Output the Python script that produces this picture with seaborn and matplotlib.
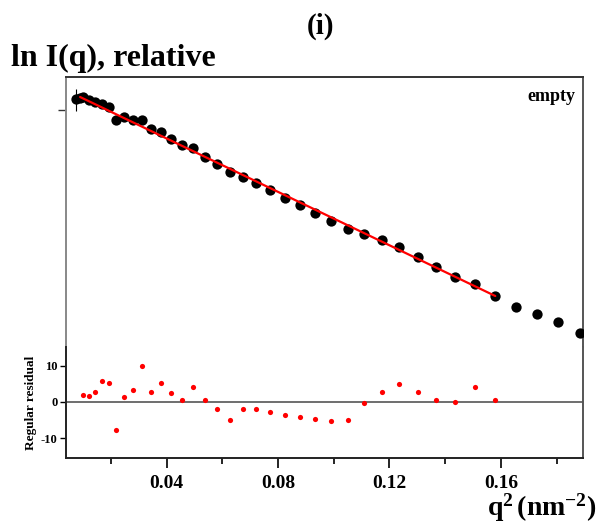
import matplotlib
matplotlib.use("Agg")
import matplotlib.pyplot as plt
from matplotlib.ticker import MultipleLocator, FixedLocator
import seaborn as sns
import pandas as pd

sns.set_theme(style="white")
plt.rcParams['font.family'] = ['Liberation Serif', 'DejaVu Serif']
plt.rcParams['font.weight'] = 'bold'
plt.rcParams['text.color'] = 'black'
plt.rcParams['axes.labelcolor'] = 'black'
plt.rcParams['xtick.color'] = 'black'
plt.rcParams['ytick.color'] = 'black'
plt.rcParams['mathtext.fontset'] = 'custom'
plt.rcParams['mathtext.rm'] = 'Liberation Serif:bold'
plt.rcParams['mathtext.bf'] = 'Liberation Serif:bold'
plt.rcParams['mathtext.it'] = 'Liberation Serif:bold'

# ---- data ----
q_lead = [0.0076, 0.0089]
lnI_lead = [0.115, 0.125]

q_fit = [0.0100, 0.0121, 0.0144, 0.0167, 0.0192, 0.0219, 0.0248, 0.0278, 0.0310,
         0.0344, 0.0378, 0.0415, 0.0454, 0.0494, 0.0536, 0.0580, 0.0626, 0.0673,
         0.0722, 0.0772, 0.0825, 0.0879, 0.0934, 0.0990, 0.1050, 0.1110, 0.1172,
         0.1235, 0.1301, 0.1368, 0.1436, 0.1508, 0.1580]
lnI_fit = [0.128, 0.098, 0.077, 0.065, 0.028, -0.099, -0.073, -0.100, -0.097,
           -0.192, -0.221, -0.290, -0.354, -0.383, -0.465, -0.538, -0.624, -0.665,
           -0.730, -0.802, -0.879, -0.954, -1.032, -1.111, -1.190, -1.235, -1.299,
           -1.367, -1.471, -1.574, -1.671, -1.736, -1.857]
residual = [2.0, 1.6, 2.8, 5.6, 5.1, -7.8, 1.3, 3.2, 9.9,
            2.6, 5.1, 2.3, 0.6, 4.1, 0.4, -1.9, -5.1, -2.1,
            -2.1, -2.8, -3.7, -4.1, -4.8, -5.3, -5.1, -0.3, 2.6,
            4.9, 2.6, 0.5, -0.1, 4.1, 0.6]

q_tail = [0.1653, 0.1729, 0.1806, 0.1884]
lnI_tail = [-1.967, -2.037, -2.120, -2.227]

fit_line_q = [0.0089, 0.1580]
fit_line_lnI = [0.130, -1.860]

x_major = [0.04, 0.08, 0.12, 0.16]
x_major_labels = ["0.04", "0.08", "0.12", "0.16"]
res_ticks = [10, 0, -10]

# ---- figure ----
W, H = 614, 527
fig = plt.figure(figsize=(W / 100, H / 100), dpi=100)

def fx(px):
    return px / W

def fy(py):
    return 1 - py / H

ax = fig.add_axes([fx(66), fy(347), fx(583) - fx(66), fy(77) - fy(347)])
axr = fig.add_axes([fx(66), fy(458), fx(583) - fx(66), fy(347) - fy(458)])

xlim = (0.00384, 0.1895)

pts = pd.DataFrame({"q": q_lead + q_fit + q_tail,
                    "lnI": lnI_lead + lnI_fit + lnI_tail})
sns.scatterplot(data=pts, x="q", y="lnI", ax=ax, color="black", s=55,
                edgecolor="black", linewidth=0, zorder=3)
ax.errorbar([q_lead[0]], [lnI_lead[0]], yerr=[[0.12], [0.10]], fmt="none",
            ecolor="black", elinewidth=0.8, zorder=2)
line = pd.DataFrame({"q": fit_line_q, "lnI": fit_line_lnI})
sns.lineplot(data=line, x="q", y="lnI", ax=ax, color="#ff0000", lw=1.6, zorder=4)

ax.set_xlim(*xlim)
ax.set_ylim(-2.37, 0.33)
ax.set_xlabel("")
ax.set_ylabel("")
ax.set_xticks([])
ax.yaxis.set_major_locator(FixedLocator([0.0]))
ax.set_yticklabels([""])
ax.tick_params(axis="y", direction="out", length=6, width=1, color="#333333", left=True)
for s in ["top", "right", "left"]:
    ax.spines[s].set_visible(True)
    ax.spines[s].set_linewidth(1.4)
ax.spines["top"].set_color("#333333")
ax.spines["right"].set_color("#555555")
ax.spines["left"].set_color("#888888")
ax.spines["bottom"].set_visible(False)
ax.text(0.985, 0.96, "empty", transform=ax.transAxes, ha="right", va="top",
        fontsize=13, fontweight="bold")

# residual panel
res = pd.DataFrame({"q": q_fit, "r": residual})
axr.axhline(0, color="#6e6e6e", lw=1.4, zorder=1)
sns.scatterplot(data=res, x="q", y="r", ax=axr, color="#ff0000", s=14,
                edgecolor="#ff0000", linewidth=0, zorder=3)
axr.set_xlim(*xlim)
axr.set_ylim(-15.5, 15.1)
axr.set_xlabel("")
axr.set_ylabel("Regular residual", fontsize=9.5, fontweight="bold", labelpad=3)
axr.yaxis.set_major_locator(FixedLocator(res_ticks))
axr.set_yticklabels([str(v) for v in res_ticks], fontsize=9, fontweight="bold")
axr.xaxis.set_major_locator(FixedLocator(x_major))
axr.xaxis.set_minor_locator(MultipleLocator(0.02))
axr.set_xticklabels(x_major_labels, fontsize=14, fontweight="bold")
axr.tick_params(axis="x", which="major", direction="out", length=7, width=1.2,
                color="black", bottom=True, pad=5)
axr.tick_params(axis="x", which="minor", direction="out", length=4.5, width=1.2,
                color="black", bottom=True)
axr.tick_params(axis="y", which="major", direction="out", length=4, width=1,
                color="black", left=True, pad=2)
for s in ["bottom", "right", "left"]:
    axr.spines[s].set_visible(True)
    axr.spines[s].set_linewidth(1.4)
    axr.spines[s].set_color("#222222")
axr.spines["right"].set_color("#555555")
axr.spines["top"].set_visible(False)

# titles and labels
fig.text(fx(320), fy(26), "(i)", ha="center", va="center", fontsize=21,
         fontweight="bold")
fig.text(fx(11), fy(58), "ln I(q), relative", ha="left", va="center",
         fontsize=23, fontweight="bold")
fig.text(fx(487), fy(508), r"$\mathbf{q^{2}\,(nm^{-2})}$", ha="left",
         va="center", fontsize=20)

fig.savefig("out.png", dpi=100)
